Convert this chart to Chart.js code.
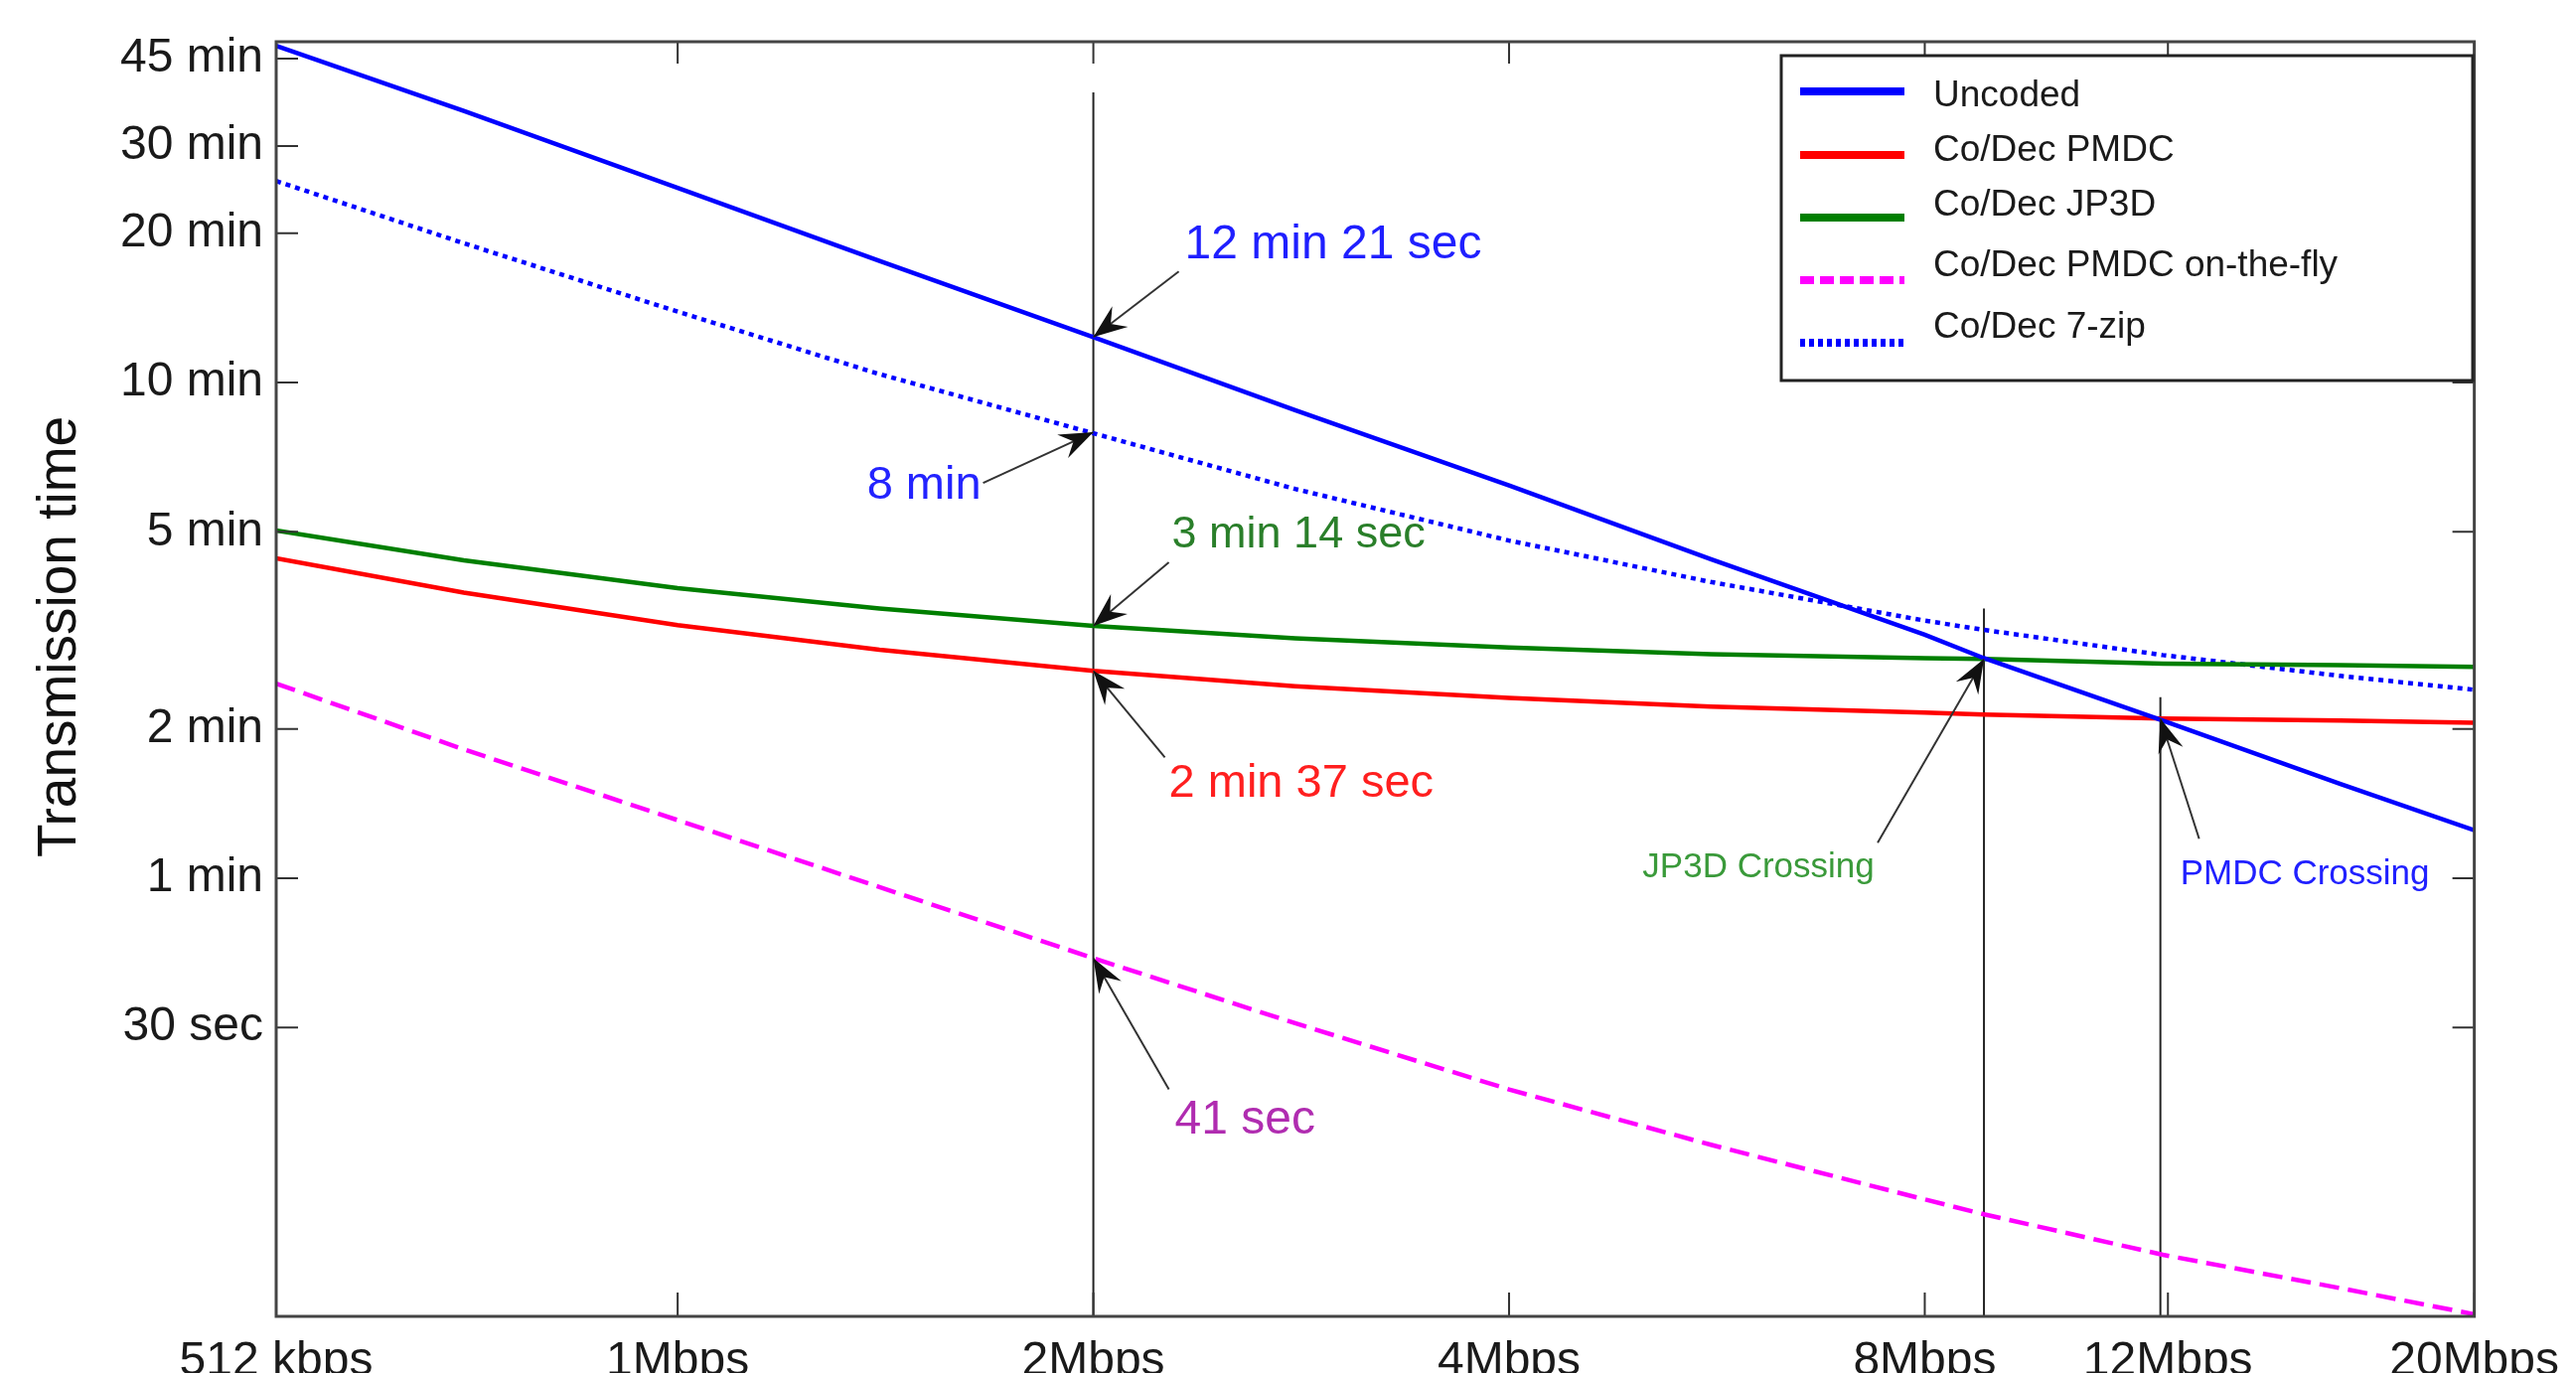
<!DOCTYPE html>
<html lang="en">
<head>
<meta charset="UTF-8">
<title>Transmission time vs bit rate</title>
<script src="https://cdn.jsdelivr.net/npm/chart.js"></script>
<style>
    body { margin: 0; background: #fff; }
    #wrap { width: 2593px; height: 1382px; position: relative; }
</style>
</head>
<body>
<div id="wrap"><canvas id="myChart"></canvas></div>
<script>
// bit rate in Mbps (x) and transmission time in minutes (y)
const rates    = [0.512, 0.7,  1,    1.4,  2,     2.8,  4,     5.6,  8,     8.83, 11.9,  16,    20];
const uncoded  = [47.8,  35.3, 24.7, 17.6, 12.35, 8.8,  6.2,   4.4,  3.1,   2.78, 2.08,  1.55,  1.25];
const pmdc     = [4.42,  3.77, 3.24, 2.89, 2.62,  2.44, 2.31,  2.22, 2.16,  2.14, 2.10,  2.08,  2.06];
const jp3d     = [5.03,  4.38, 3.85, 3.5,  3.23,  3.05, 2.92,  2.83, 2.78,  2.77, 2.71,  2.69,  2.67];
const onTheFly = [2.47,  1.82, 1.31, 0.96, 0.69,  0.51, 0.375, 0.29, 0.225, 0.21, 0.174, 0.149, 0.132];
const sevenZip = [25.5,  19.1, 13.9, 10.4, 7.9,   6.1,  4.8,   3.96, 3.31,  3.17, 2.82,  2.56,  2.4];

const xTickValues = [0.512, 1, 2, 4, 8, 12, 20];
const xTickLabels = ['512 kbps', '1Mbps', '2Mbps', '4Mbps', '8Mbps', '12Mbps', '20Mbps'];
const yTickValues = [0.5, 1, 2, 5, 10, 20, 30, 45];
const yTickLabels = ['30 sec', '1 min', '2 min', '5 min', '10 min', '20 min', '30 min', '45 min'];

// vertical guide lines (rate) and the time they reach up to
const markerRates = [2, 8.83, 11.85];
const markerTops = [38.5, 3.5, 2.32];

const X_MIN = 0.512, X_MAX = 20;
const Y_MIN = 0.1307, Y_MAX = 48.7;

const FONT = '"Liberation Sans", Arial, sans-serif';

const series = [
    { label: 'Uncoded', values: uncoded, color: '#0000ff', dash: [], legendDash: [] },
    { label: 'Co/Dec PMDC', values: pmdc, color: '#ff0000', dash: [], legendDash: [] },
    { label: 'Co/Dec JP3D', values: jp3d, color: '#007f00', dash: [], legendDash: [] },
    { label: 'Co/Dec PMDC on-the-fly', values: onTheFly, color: '#ff00ff', dash: [20, 9], legendDash: [14, 6] },
    { label: 'Co/Dec 7-zip', values: sevenZip, color: '#0000ff', dash: [5, 5], legendDash: [5, 4] }
];

// text notes with arrows; offsets are in pixels from the point they point at
const notes = [
    { text: '12 min 21 sec', color: '#1f1fff', at: [2, 12.35], tail: [86, -66], pos: [92, -93], align: 'left', size: 48 },
    { text: '8 min', color: '#2323ff', at: [2, 7.94], tail: [-111, 51], pos: [-113, 54], align: 'right', size: 47 },
    { text: '3 min 14 sec', color: '#2a7f2a', at: [2, 3.23], tail: [76, -64], pos: [79, -91], align: 'left', size: 45 },
    { text: '2 min 37 sec', color: '#ff1f1f', at: [2, 2.62], tail: [72, 87], pos: [76, 114], align: 'left', size: 47 },
    { text: '41 sec', color: '#b02cb0', at: [2, 0.69], tail: [76, 132], pos: [82, 163], align: 'left', size: 48 },
    { text: 'JP3D Crossing', color: '#3a9a3a', at: [8.83, 2.77], tail: [-107, 185], pos: [-227, 210], align: 'center', size: 35 },
    { text: 'PMDC Crossing', color: '#2020ff', at: [11.85, 2.1], tail: [39, 121], pos: [20, 157], align: 'left', size: 35 }
];

function drawArrow(ctx, x0, y0, x1, y1) {
    ctx.strokeStyle = '#333';
    ctx.lineWidth = 2;
    ctx.setLineDash([]);
    ctx.beginPath();
    ctx.moveTo(x0, y0);
    ctx.lineTo(x1, y1);
    ctx.stroke();
    const ang = Math.atan2(y1 - y0, x1 - x0);
    ctx.save();
    ctx.translate(x1, y1);
    ctx.rotate(ang);
    ctx.fillStyle = '#111';
    ctx.beginPath();
    ctx.moveTo(0, 0);
    ctx.lineTo(-34, -13);
    ctx.lineTo(-22, 0);
    ctx.lineTo(-34, 13);
    ctx.closePath();
    ctx.fill();
    ctx.restore();
}

const decorations = {
    id: 'decorations',
    afterDraw(chart) {
        const { ctx, chartArea: a, scales: { x, y } } = chart;
        ctx.save();

        // inward tick marks on all four sides
        ctx.strokeStyle = '#333';
        ctx.lineWidth = 2;
        ctx.beginPath();
        yTickValues.forEach(v => {
            const py = y.getPixelForValue(v);
            ctx.moveTo(a.left, py); ctx.lineTo(a.left + 22, py);
            ctx.moveTo(a.right, py); ctx.lineTo(a.right - 22, py);
        });
        xTickValues.forEach(v => {
            const px = x.getPixelForValue(v);
            ctx.moveTo(px, a.bottom); ctx.lineTo(px, a.bottom - 24);
            ctx.moveTo(px, a.top); ctx.lineTo(px, a.top + 22);
        });
        ctx.stroke();

        // plot box
        ctx.strokeStyle = '#444';
        ctx.lineWidth = 3;
        ctx.strokeRect(a.left, a.top, a.right - a.left, a.bottom - a.top);

        // notes and arrows
        notes.forEach(n => {
            const px = x.getPixelForValue(n.at[0]);
            const py = y.getPixelForValue(n.at[1]);
            drawArrow(ctx, px + n.tail[0], py + n.tail[1], px, py);
            ctx.font = n.size + 'px ' + FONT;
            ctx.fillStyle = n.color;
            ctx.textAlign = n.align;
            ctx.textBaseline = 'middle';
            ctx.fillText(n.text, px + n.pos[0], py + n.pos[1]);
        });

        // legend box inside the top right corner
        const lg = { left: 1793, top: 56, right: 2489, bottom: 383 };
        const rowLine = [92, 156, 219, 282, 345];
        const rowText = [97, 152, 207, 268, 330];
        ctx.fillStyle = '#fff';
        ctx.fillRect(lg.left, lg.top, lg.right - lg.left, lg.bottom - lg.top);
        ctx.strokeStyle = '#222';
        ctx.lineWidth = 3;
        ctx.strokeRect(lg.left, lg.top, lg.right - lg.left, lg.bottom - lg.top);
        series.forEach((s, i) => {
            ctx.strokeStyle = s.color;
            ctx.lineWidth = 8;
            ctx.setLineDash(s.legendDash);
            ctx.beginPath();
            ctx.moveTo(1812, rowLine[i]);
            ctx.lineTo(1917, rowLine[i]);
            ctx.stroke();
            ctx.setLineDash([]);
            ctx.fillStyle = '#1a1a1a';
            ctx.font = '37px ' + FONT;
            ctx.textAlign = 'left';
            ctx.textBaseline = 'middle';
            ctx.fillText(s.label, 1946, rowText[i]);
        });

        // y axis title
        ctx.translate(61, 641);
        ctx.rotate(-Math.PI / 2);
        ctx.fillStyle = '#111';
        ctx.font = '55px ' + FONT;
        ctx.textAlign = 'center';
        ctx.textBaseline = 'middle';
        ctx.fillText('Transmission time', 0, 0);

        ctx.restore();
    }
};

const datasets = series.map(s => ({
    label: s.label,
    data: rates.map((r, i) => ({ x: r, y: s.values[i] })),
    borderColor: s.color,
    borderWidth: s.dash.length ? 4.5 : 4.5,
    borderDash: s.dash,
    pointRadius: 0,
    tension: 0,
    fill: false,
    order: 1
}));

markerRates.forEach((r, i) => {
    datasets.push({
        label: 'marker' + i,
        data: [{ x: r, y: markerTops[i] }, { x: r, y: Y_MIN }],
        borderColor: '#222',
        borderWidth: 2,
        pointRadius: 0,
        fill: false,
        order: 10
    });
});

const config = {
    type: 'line',
    data: { datasets: datasets },
    plugins: [decorations],
    options: {
        responsive: true,
        maintainAspectRatio: false,
        animation: false,
        layout: { padding: { top: 42, right: 101, left: 0, bottom: 0 } },
        plugins: {
            legend: { display: false },
            tooltip: { enabled: false }
        },
        scales: {
            x: {
                type: 'logarithmic',
                min: X_MIN,
                max: X_MAX,
                bounds: 'data',
                afterBuildTicks: scale => {
                    scale.ticks = xTickValues.map(v => ({ value: v }));
                },
                afterFit: scale => { scale.height = 57; },
                grid: { display: false, drawTicks: false },
                border: { display: false },
                ticks: {
                    autoSkip: false,
                    maxRotation: 0,
                    padding: 17,
                    color: '#1a1a1a',
                    font: { family: FONT, size: 48 },
                    callback: value => xTickLabels[xTickValues.indexOf(value)]
                }
            },
            y: {
                type: 'logarithmic',
                min: Y_MIN,
                max: Y_MAX,
                bounds: 'data',
                afterBuildTicks: scale => {
                    scale.ticks = yTickValues.map(v => ({ value: v }));
                },
                afterFit: scale => { scale.width = 278; },
                grid: { display: false, drawTicks: false },
                border: { display: false },
                ticks: {
                    autoSkip: false,
                    padding: 13,
                    color: '#1a1a1a',
                    font: { family: FONT, size: 48 },
                    callback: value => yTickLabels[yTickValues.indexOf(value)]
                }
            }
        }
    }
};

const ctx = document.getElementById('myChart').getContext('2d');
const myChart = new Chart(ctx, config);
</script>
</body>
</html>
